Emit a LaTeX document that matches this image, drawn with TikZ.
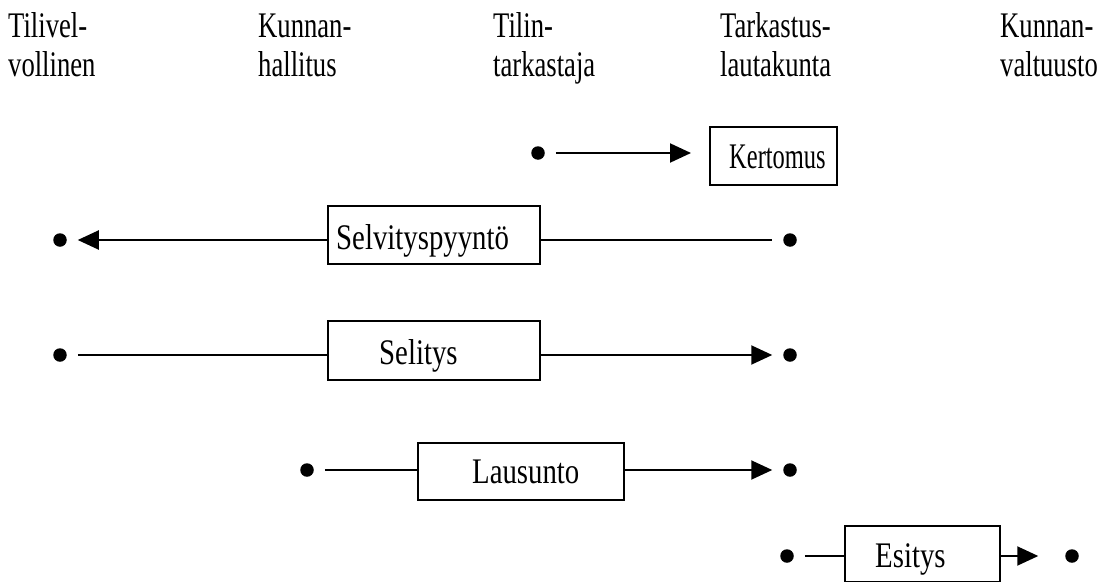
\documentclass[tikz,border=0pt]{standalone}
\usepackage{fontspec}
\setmainfont{Liberation Serif}[FakeStretch=0.8]
\newfontfamily\headfont{Liberation Serif}[FakeStretch=0.74]
\newfontfamily\narrowfont{Liberation Serif}[FakeStretch=0.68]
\usetikzlibrary{arrows.meta}
\tikzset{
  role/.style={anchor=base west, align=left, inner sep=0pt,
    font=\headfont\fontsize{36}{39}\selectfont},
  doclabel/.style={anchor=base west, inner sep=0pt,
    font=\fontsize{36}{39}\selectfont},
  docbox/.style={draw, line width=2pt, inner sep=0pt},
  dot/.style={circle, fill, inner sep=0pt, minimum size=13.5pt, outer sep=11pt},
  flow/.style={line width=2pt},
  tip/.style={-{Triangle[length=21pt, width=19pt]}}
}
\begin{document}
\begin{tikzpicture}[x=1pt, y=-1pt]
  \useasboundingbox (0,0) rectangle (1103,581);
  \clip (0,0) rectangle (1103,581);

  % column headings (anchor sits on the second line's baseline)
  \node[role] (h1) at (8,76)    {Tilivel-\\vollinen};
  \node[role] (h2) at (258,76)  {Kunnan-\\hallitus};
  \node[role] (h3) at (493,76)  {Tilin-\\tarkastaja};
  \node[role] (h4) at (720,76)  {Tarkastus-\\lautakunta};
  \node[role] (h5) at (1000,76) {Kunnan-\\valtuusto};

  % documents
  \node[docbox, minimum width=127pt, minimum height=58pt] (kert) at (773.5,156) {};
  \node[docbox, minimum width=212pt, minimum height=58pt] (selp) at (434,235) {};
  \node[docbox, minimum width=212pt, minimum height=59pt] (seli) at (434,350.5) {};
  \node[docbox, minimum width=206pt, minimum height=57pt] (laus) at (521,471.5) {};
  \node[docbox, minimum width=155pt, minimum height=56pt] (esit) at (922.5,554) {};

  \node[doclabel, font=\narrowfont\fontsize{36}{39}\selectfont] (tkert) at (729,168) {Kertomus};
  \node[doclabel] (tselp) at (336,249) {Selvityspyyntö};
  \node[doclabel] (tseli) at (379,364) {Selitys};
  \node[doclabel] (tlaus) at (472,483) {Lausunto};
  \node[doclabel] (tesit) at (875,567) {Esitys};

  % end points
  \node[dot] (d1a) at (538,153) {};
  \node[dot] (d2a) at (60,240) {};
  \node[dot] (d2b) at (790,240) {};
  \node[dot] (d3a) at (60,355) {};
  \node[dot] (d3b) at (790,355) {};
  \node[dot] (d4a) at (307,470) {};
  \node[dot] (d4b) at (790,470) {};
  \node[dot] (d5a) at (787,556) {};
  \node[dot] (d5b) at (1072,556) {};

  % connectors
  \draw[flow, tip, shorten >=18pt] (d1a) -- (kert.west |- d1a);

  \draw[flow, tip] (selp.west |- d2a) -- (d2a);
  \draw[flow] (selp.east |- d2b) -- (d2b);

  \draw[flow] (d3a) -- (seli.west |- d3a);
  \draw[flow, tip] (seli.east |- d3b) -- (d3b);

  \draw[flow] (d4a) -- (laus.west |- d4a);
  \draw[flow, tip] (laus.east |- d4b) -- (d4b);

  \draw[flow] (d5a) -- (esit.west |- d5a);
  \draw[flow, tip, shorten >=16pt] (esit.east |- d5b) -- (d5b);
\end{tikzpicture}
\end{document}
